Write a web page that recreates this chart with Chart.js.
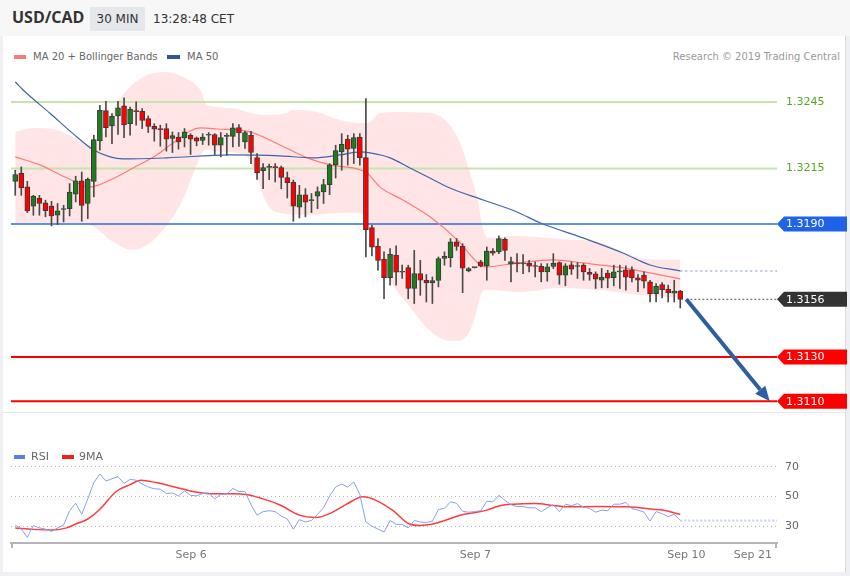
<!DOCTYPE html>
<html>
<head>
<meta charset="utf-8">
<script src="https://cdn.jsdelivr.net/npm/chart.js@4.4.0/dist/chart.umd.min.js"></script>
<style>
  body { margin: 0; width: 850px; height: 576px; background: #eef0f3; font-family: "DejaVu Sans", sans-serif; overflow: hidden; position: relative; }
  #head { position: absolute; left: 0; top: 0; width: 850px; height: 36px; background: #f7f7f7; }
  #panel { position: absolute; left: 3px; top: 36px; width: 842px; height: 536px; background: #fff; border-right: 1px solid #dadada; }
  .abs { position: absolute; white-space: nowrap; }
  #pair { left: 12px; top: 6px; line-height: 22px; font: bold 16px "Open Sans", sans-serif; color: #333; }
  #tf { left: 90px; top: 7px; width: 55px; height: 24px; line-height: 24px; text-align: center; background: #e6e7eb; font-size: 12px; color: #333; }
  #clock { left: 153px; top: 7px; line-height: 24px; font-size: 12px; color: #333; }
  .lg { font-size: 10px; line-height: 14px; color: #666; }
  .sw { position: absolute; height: 4px; }
  #sep { position: absolute; left: 3px; top: 412px; width: 842px; height: 1px; background: #e8e8e8; }
  canvas { position: absolute; left: 0; }
</style>
</head>
<body>
<div id="head"></div>
<div id="panel"></div>
<div class="abs" id="pair">USD/CAD</div>
<div class="abs" id="tf">30 MIN</div>
<div class="abs" id="clock">13:28:48 CET</div>

<div class="sw" style="left:14px;top:55px;width:12px;background:#f47c7c"></div>
<div class="abs lg" style="left:33px;top:50px">MA 20 + Bollinger Bands</div>
<div class="sw" style="left:167px;top:55px;width:13px;background:#2f5597"></div>
<div class="abs lg" style="left:187px;top:50px">MA 50</div>
<div class="abs lg" style="right:10px;top:50px;color:#9a9a9a">Research © 2019 Trading Central</div>

<div id="sep"></div>
<canvas id="price" width="850" height="342" style="top:70px"></canvas>
<canvas id="rsi" width="850" height="164" style="top:412px"></canvas>

<div class="sw" style="left:14px;top:455px;width:11px;background:#5a7fe6"></div>
<div class="abs lg" style="left:31px;top:450px;font-size:11px">RSI</div>
<div class="sw" style="left:62px;top:455px;width:12px;background:#ff1a1a"></div>
<div class="abs lg" style="left:79px;top:450px;font-size:11px">9MA</div>

<script>
// 30 min candles
const opens = [1.32092,1.32128,1.32067,1.31980,1.32017,1.31995,1.31980,1.31939,1.31965,1.31969,
  1.32034,1.32094,1.31992,1.32092,1.32274,1.32411,1.32342,1.32387,1.32432,1.32352,
  1.32409,1.32408,1.32375,1.32340,1.32328,1.32330,1.32285,1.32292,1.32288,1.32300,
  1.32288,1.32277,1.32300,1.32303,1.32255,1.32295,1.32295,1.32334,1.32270,1.32300,
  1.32199,1.32140,1.32155,1.32158,1.32154,1.32109,1.32088,1.31975,1.32031,1.32005,
  1.32025,1.32044,1.32077,1.32166,1.32225,1.32282,1.32240,1.32292,1.32199,1.31883,
  1.31799,1.31741,1.31658,1.31760,1.31682,1.31703,1.31609,1.31676,1.31646,1.31634,
  1.31645,1.31744,1.31748,1.31819,1.31799,1.31688,1.31703,1.31729,1.31711,1.31778,
  1.31774,1.31831,1.31718,1.31723,1.31720,1.31723,1.31711,1.31709,1.31684,1.31708,
  1.31726,1.31669,1.31715,1.31708,1.31714,1.31682,1.31675,1.31646,1.31678,1.31658,
  1.31684,1.31693,1.31693,1.31657,1.31669,1.31639,1.31586,1.31627,1.31606,1.31588,1.31597];
const highs = [1.32142,1.32157,1.32092,1.32029,1.32029,1.32007,1.32002,1.31992,1.31984,1.32082,
  1.32115,1.32134,1.32107,1.32300,1.32435,1.32453,1.32397,1.32453,1.32468,1.32427,
  1.32450,1.32420,1.32387,1.32352,1.32345,1.32352,1.32315,1.32312,1.32330,1.32307,
  1.32292,1.32307,1.32312,1.32307,1.32312,1.32307,1.32352,1.32348,1.32318,1.32318,
  1.32217,1.32172,1.32170,1.32172,1.32161,1.32134,1.32098,1.32074,1.32059,1.32037,
  1.32067,1.32101,1.32172,1.32255,1.32307,1.32300,1.32307,1.32307,1.32465,1.31894,
  1.31834,1.31774,1.31789,1.31801,1.31714,1.31714,1.31781,1.31736,1.31672,1.31661,
  1.31751,1.31774,1.31834,1.31834,1.31811,1.31703,1.31705,1.31736,1.31796,1.31789,
  1.31846,1.31837,1.31751,1.31766,1.31762,1.31736,1.31729,1.31721,1.31721,1.31766,
  1.31729,1.31721,1.31729,1.31726,1.31721,1.31699,1.31684,1.31699,1.31691,1.31714,
  1.31714,1.31711,1.31706,1.31672,1.31684,1.31646,1.31631,1.31636,1.31624,1.31646,1.31601];
const lows = [1.32029,1.32029,1.31951,1.31939,1.31939,1.31932,1.31891,1.31897,1.31909,1.31936,
  1.31999,1.31912,1.31924,1.32022,1.32232,1.32292,1.32262,1.32303,1.32289,1.32300,
  1.32345,1.32330,1.32312,1.32273,1.32250,1.32228,1.32222,1.32237,1.32247,1.32213,
  1.32252,1.32258,1.32255,1.32213,1.32202,1.32210,1.32247,1.32250,1.32240,1.32172,
  1.32101,1.32059,1.32100,1.32089,1.32059,1.32017,1.31912,1.31927,1.31932,1.31951,
  1.31969,1.31992,1.32032,1.32107,1.32142,1.32165,1.32172,1.32165,1.31751,1.31756,
  1.31691,1.31563,1.31624,1.31624,1.31654,1.31563,1.31541,1.31578,1.31548,1.31541,
  1.31616,1.31714,1.31706,1.31781,1.31590,1.31684,1.31701,1.31706,1.31646,1.31759,
  1.31766,1.31736,1.31639,1.31684,1.31676,1.31684,1.31661,1.31639,1.31642,1.31699,
  1.31628,1.31621,1.31672,1.31654,1.31646,1.31646,1.31609,1.31612,1.31612,1.31621,
  1.31609,1.31601,1.31639,1.31594,1.31612,1.31548,1.31548,1.31566,1.31548,1.31548,1.31521];
const closes = [1.32122,1.32062,1.31959,1.32025,1.31992,1.31960,1.31936,1.31959,1.31969,1.32044,
  1.32094,1.31983,1.32101,1.32280,1.32412,1.32334,1.32385,1.32423,1.32346,1.32417,
  1.32406,1.32367,1.32340,1.32327,1.32325,1.32282,1.32298,1.32270,1.32315,1.32282,
  1.32273,1.32292,1.32303,1.32255,1.32289,1.32298,1.32333,1.32310,1.32312,1.32222,
  1.32130,1.32154,1.32158,1.32154,1.32110,1.32086,1.31980,1.32031,1.31998,1.32010,
  1.32046,1.32077,1.32166,1.32231,1.32259,1.32237,1.32289,1.32199,1.31874,1.31795,
  1.31736,1.31658,1.31763,1.31682,1.31684,1.31609,1.31676,1.31646,1.31634,1.31645,
  1.31744,1.31754,1.31819,1.31799,1.31700,1.31699,1.31703,1.31709,1.31778,1.31768,
  1.31834,1.31780,1.31730,1.31720,1.31723,1.31709,1.31708,1.31684,1.31706,1.31723,
  1.31669,1.31711,1.31696,1.31711,1.31684,1.31672,1.31651,1.31660,1.31655,1.31684,
  1.31687,1.31660,1.31657,1.31646,1.31642,1.31586,1.31619,1.31604,1.31589,1.31597,1.31560];

// indicator lines, [bar, value]
const ma20 = [[0,1.32202],[4.1,1.32166],[8.6,1.32107],[12.4,1.32067],[15.7,1.32098],[19.5,1.32152],
  [23.4,1.32211],[26.1,1.32265],[30.6,1.32333],[33.4,1.32328],[38.8,1.32315],[43.8,1.32256],
  [48.3,1.32198],[52.1,1.32166],[56.5,1.32148],[58.2,1.32130],[60.3,1.32067],[64.1,1.32008],
  [68.6,1.31932],[73.1,1.31828],[76.9,1.31715],[77.7,1.31706],[83,1.31724],[88.9,1.31738],
  [93.9,1.31724],[99.5,1.31706],[105,1.31679],[110,1.31652]];
const ma50 = [[0,1.3254],[1.3,1.32504],[5.7,1.32400],[10.2,1.32292],[12.9,1.32234],[15.7,1.32202],
  [17.8,1.32193],[25.1,1.32198],[35.5,1.32211],[43.8,1.32207],[49.2,1.32198],[53.7,1.32211],
  [57,1.32225],[58.7,1.32220],[62,1.32198],[65.3,1.32152],[68.6,1.32107],[71.9,1.32062],
  [77.4,1.32008],[83,1.31954],[86.8,1.31905],[93.9,1.31837],[100.5,1.31769],[105,1.31715],[110,1.31688]];
const bandUpper = [[0,1.32315],[2.9,1.32333],[6.9,1.32324],[9.5,1.32292],[12.4,1.32256],[14,1.32279],
  [16,1.32405],[18.5,1.32504],[21.5,1.32567],[24.8,1.32585],[28.1,1.32558],[30.6,1.32504],
  [31.7,1.32436],[35.5,1.32423],[41,1.32391],[44.9,1.32400],[45.9,1.32414],[49.9,1.32405],
  [53.7,1.32369],[57.5,1.32355],[58.7,1.32360],[60.3,1.32400],[63.2,1.32405],[68.6,1.32400],
  [71.4,1.32360],[73.6,1.32265],[75.2,1.32130],[76.5,1.32008],[77.4,1.31873],[78.5,1.31837],
  [82.2,1.31846],[90.4,1.31832],[97.6,1.31810],[100.4,1.31774],[104.2,1.31742],[110,1.31738]];
const bandLower = [[0,1.31905],[7.4,1.31905],[12.4,1.31895],[15.7,1.31828],[19.5,1.31783],[22.3,1.31814],
  [25.1,1.31895],[27.7,1.32008],[29.7,1.32143],[31.5,1.32234],[33.9,1.32225],[38,1.32211],
  [39.8,1.32121],[41.5,1.31999],[43.1,1.31954],[48.6,1.31941],[55,1.31950],[58,1.31941],
  [59,1.31828],[60.3,1.31729],[62.8,1.31611],[65.3,1.31526],[67.8,1.31440],[70.3,1.31386],
  [72.7,1.31372],[74.7,1.31395],[76,1.31476],[77,1.31580],[78,1.31602],[83.5,1.31593],
  [90.1,1.31611],[96.7,1.31602],[103.3,1.31580],[110,1.31566]];

const rsi = [30.8,28,22.4,30.4,28.8,28,26.4,28.8,30.8,40.4,45.4,38,48.4,59.4,65.2,60.4,62,63.4,58.8,61.6,
  61,58.4,56.4,55.2,55,52,52.4,50.4,53.8,50.8,50.4,52,52.4,48.4,51.4,51.8,55.4,53.4,53.4,44.4,
  37.4,39.8,40.4,39.8,36.8,34.8,28,34.4,32.8,33.8,38,42.4,50.4,56.4,58.4,56.4,59.8,51.4,32.8,30,
  28,26,33.8,31.2,31.2,28.8,33.8,32.8,32.4,33.4,41.2,42,46.4,45.4,40,39.4,39.8,40.4,46.8,46.4,
  50.8,47.4,44.4,43.2,43.2,42.4,42.4,39.8,42.4,44.4,39.8,44.8,43.8,45.2,42.8,42,39.4,40.8,40.4,44.8,
  44.8,46,41.8,40.8,39.4,33.4,39.8,38.4,36.4,38,33.8];
const rsiMa9 = [[0,28.8],[3,27.8],[6.3,27.4],[8.5,28.8],[10,31.4],[12,34.8],[14,41.4],[16.7,53.4],[19,58],
  [20.8,61],[23.3,59.4],[26,56.8],[29.4,53.4],[32.7,51.8],[36,51.8],[38.2,51.4],[41,48.4],[43.7,44.4],
  [47,37.4],[49.8,35.8],[52,38.4],[54.8,44.8],[57.5,49.8],[59.7,47.4],[62.5,40.4],[65.2,31.4],[67,30.4],
  [69.1,31.4],[70.8,33.4],[73.6,37.4],[76.3,39.4],[78,40.8],[80.2,43.8],[82.4,44.8],[86,45.2],[89,44],
  [91.8,43],[96.2,43.2],[101.1,43],[105.5,41.4],[107.7,40.4],[110,37.8]];

const dateTicks = ['Sep 6', 'Sep 7', 'Sep 10', 'Sep 21'];
const dateTickBars = [29.1, 76.1, 111.0, 122.0];
const rsiTicks = [30, 50, 70];

const greenLevels = [1.3245, 1.3215];
const pivotLevel = 1.3190;
const targetLevels = [1.3130, 1.3110];
const lastPrice = 1.3156;
const arrowEndBar = 124.8;

const xMin = -0.7, xMax = 126;
const pts = arr => arr.map(([x, y]) => ({x, y}));
const font = "DejaVu Sans";

const bodies = closes.map((c, i) => ({x: i, y: [opens[i], c]}));
const wicks = highs.map((h, i) => ({x: i, y: [lows[i], h]}));
const bodyColors = closes.map((c, i) => c >= opens[i] ? '#1b7d1b' : '#ff0000');
const ma50End = ma50[ma50.length - 1];

function drawTag(ctx, x, y, color, text) {
  ctx.fillStyle = color;
  ctx.beginPath();
  ctx.moveTo(x, y);
  ctx.lineTo(x + 7, y - 7.5);
  ctx.lineTo(x + 70, y - 7.5);
  ctx.lineTo(x + 70, y + 7.5);
  ctx.lineTo(x + 7, y + 7.5);
  ctx.closePath();
  ctx.fill();
  ctx.fillStyle = '#fff';
  ctx.font = '11px "' + font + '"';
  ctx.textBaseline = 'middle';
  ctx.textAlign = 'left';
  ctx.fillText(text, x + 9, y + 0.5);
}

function hline(ctx, left, right, yp, color, width, dash) {
  ctx.save();
  ctx.strokeStyle = color;
  ctx.lineWidth = width;
  ctx.setLineDash(dash || []);
  ctx.beginPath();
  ctx.moveTo(left, yp);
  ctx.lineTo(right, yp);
  ctx.stroke();
  ctx.restore();
}

const levels = {
  id: 'levels',
  beforeDatasetsDraw(chart) {
    const {ctx, chartArea: {left, right}, scales: {y}} = chart;
    greenLevels.forEach(v => {
      const yp = y.getPixelForValue(v);
      hline(ctx, left, right, yp, '#c6e4ab', 2);
      ctx.fillStyle = '#56a81e';
      ctx.font = '11px "' + font + '"';
      ctx.textBaseline = 'middle';
      ctx.fillText(v.toFixed(4), right + 9, yp);
    });
    hline(ctx, left, right, y.getPixelForValue(pivotLevel), '#2c6be4', 1.5);
    targetLevels.forEach(v => hline(ctx, left, right, y.getPixelForValue(v), '#ff0000', 2));
  },
  afterDatasetsDraw(chart) {
    const {ctx, chartArea: {right}, scales: {x, y}} = chart;
    const x0 = x.getPixelForValue(closes.length);
    const y0 = y.getPixelForValue(lastPrice);
    hline(ctx, x0, right, y0, '#555', 1, [2, 2]);

    drawTag(ctx, right, y.getPixelForValue(pivotLevel), '#1f63e8', pivotLevel.toFixed(4));
    drawTag(ctx, right, y0, '#333333', lastPrice.toFixed(4));
    targetLevels.forEach(v => drawTag(ctx, right, y.getPixelForValue(v), '#ff0000', v.toFixed(4)));

    // projection arrow
    const x1 = x.getPixelForValue(arrowEndBar);
    const y1 = y.getPixelForValue(targetLevels[1]);
    const ang = Math.atan2(y1 - y0, x1 - x0);
    const head = 15;
    const bx = x1 - head * Math.cos(ang), by = y1 - head * Math.sin(ang);
    ctx.save();
    ctx.strokeStyle = '#2f5e9e';
    ctx.fillStyle = '#2f5e9e';
    ctx.lineWidth = 4;
    ctx.beginPath();
    ctx.moveTo(x0, y0);
    ctx.lineTo(bx, by);
    ctx.stroke();
    ctx.beginPath();
    ctx.moveTo(x1, y1);
    ctx.lineTo(bx + 6.5 * Math.sin(ang), by - 6.5 * Math.cos(ang));
    ctx.lineTo(bx - 6.5 * Math.sin(ang), by + 6.5 * Math.cos(ang));
    ctx.closePath();
    ctx.fill();
    ctx.restore();
  }
};

new Chart(document.getElementById('price'), {
  type: 'bar',
  data: {
    datasets: [
      { type: 'line', data: pts(bandUpper), borderWidth: 0, pointRadius: 0, fill: '+1',
        backgroundColor: 'rgba(255,150,150,0.25)', cubicInterpolationMode: 'monotone', order: 10 },
      { type: 'line', data: pts(bandLower), borderWidth: 0, pointRadius: 0, fill: false,
        cubicInterpolationMode: 'monotone', order: 10 },
      { type: 'line', data: pts(ma50), borderColor: '#3e66ad', borderWidth: 1.2, pointRadius: 0,
        cubicInterpolationMode: 'monotone', order: 5 },
      { type: 'line', data: pts(ma20), borderColor: '#ff7a7a', borderWidth: 1.2, pointRadius: 0,
        cubicInterpolationMode: 'monotone', order: 5 },
      { type: 'line', data: [{x: ma50End[0], y: ma50End[1]}, {x: xMax, y: ma50End[1]}],
        borderColor: '#a8b8d8', borderWidth: 1.5, borderDash: [2, 3], pointRadius: 0, order: 5 },
      { data: wicks, backgroundColor: '#4a4a4a', barThickness: 1, grouped: false, order: 2 },
      { data: bodies, backgroundColor: bodyColors, borderColor: '#3a3a3a', borderWidth: 1,
        borderSkipped: false, barThickness: 5, minBarLength: 1, grouped: false, order: 1 }
    ]
  },
  options: {
    animation: false,
    responsive: false,
    events: [],
    layout: { padding: { left: 11, right: 73, top: 0, bottom: 0 } },
    plugins: { legend: { display: false }, tooltip: { enabled: false }, filler: { drawTime: 'beforeDatasetsDraw' } },
    scales: {
      x: { type: 'linear', min: xMin, max: xMax, offset: false, display: false },
      y: { min: 1.31052, max: 1.32594, beginAtZero: false, display: false }
    }
  },
  plugins: [levels]
});

const axisEnds = {
  id: 'axisEnds',
  afterDraw(chart) {
    const {ctx, chartArea: {left, right, bottom}} = chart;
    ctx.save();
    ctx.strokeStyle = '#b5b5b5';
    ctx.lineWidth = 2;
    [left + 1, right - 1].forEach(xp => {
      ctx.beginPath();
      ctx.moveTo(xp, bottom);
      ctx.lineTo(xp, bottom + 5);
      ctx.stroke();
    });
    ctx.restore();
  }
};

new Chart(document.getElementById('rsi'), {
  type: 'line',
  data: {
    datasets: [
      { data: rsi.map((v, i) => ({x: i, y: v})), borderColor: '#86a0ee', borderWidth: 1, pointRadius: 0 },
      { data: pts(rsiMa9), borderColor: '#ff3b3b', borderWidth: 1.5, pointRadius: 0, cubicInterpolationMode: 'monotone' },
      { data: [{x: rsi.length - 1, y: rsi[rsi.length - 1]}, {x: xMax, y: rsi[rsi.length - 1]}],
        borderColor: '#c3d0f5', borderWidth: 2, borderDash: [2, 2], pointRadius: 0 }
    ]
  },
  options: {
    animation: false,
    responsive: false,
    events: [],
    layout: { padding: { left: 11, right: 0, top: 0, bottom: 0 } },
    plugins: { legend: { display: false }, tooltip: { enabled: false } },
    scales: {
      x: {
        type: 'linear', min: xMin, max: xMax, offset: false,
        grid: { display: true, drawOnChartArea: false, drawTicks: false },
        border: { color: '#b5b5b5', width: 2 },
        afterBuildTicks: a => { a.ticks = dateTickBars.map(v => ({value: v})); },
        afterFit: a => { a.height = 33; },
        ticks: { padding: 6, autoSkip: false, maxRotation: 0, color: '#777',
          font: { family: font, size: 11 }, callback: (v, i) => dateTicks[i] }
      },
      y: {
        position: 'right', min: 18.6, max: 97.2,
        afterBuildTicks: a => { a.ticks = rsiTicks.map(v => ({value: v})); },
        afterFit: a => { a.width = 73; },
        grid: { color: '#b8b8b8', drawTicks: false },
        border: { display: false, dash: [1, 3] },
        ticks: { padding: 8, color: '#666', font: { family: font, size: 11 } }
      }
    }
  },
  plugins: [axisEnds]
});
</script>
</body>
</html>
